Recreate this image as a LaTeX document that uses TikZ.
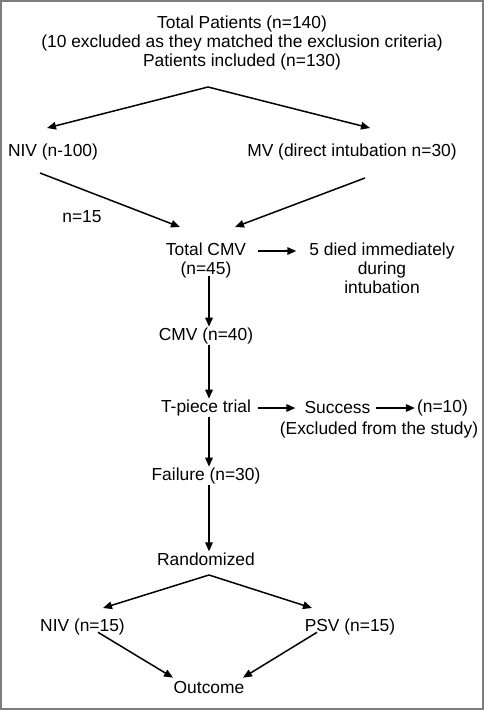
\documentclass[tikz,border=0pt]{standalone}
\usepackage{fontspec}
\setmainfont{Liberation Sans}
\usetikzlibrary{arrows.meta,positioning}
\definecolor{framegray}{RGB}{125,125,125}

\begin{document}
\begin{tikzpicture}[x=1pt,y=-1pt,
  lbl/.style={inner sep=1pt,font=\fontsize{17.4}{19}\selectfont,align=center},
  arr/.style={line width=1.5pt,-{Triangle[length=9pt,width=7.5pt]}}]
\useasboundingbox (0,0) rectangle (484,710);
\draw[framegray,line width=2pt] (1,1) rectangle (483,709);
% Enrolment
\node[lbl] (total) at (242,43) {Total Patients (n=140)\\(10 excluded as they matched the exclusion criteria)\\Patients included (n=130)};
\coordinate (split) at (208,87);
\node[lbl] (niv) at (53,152) {NIV (n-100)};
\node[lbl] (mv) at (352,152) {MV (direct intubation n=30)};
\coordinate (nivin) at (47,128);
\coordinate (mvin) at (370,128);
\draw[arr] (split) -- (nivin);
\draw[arr] (split) -- (mvin);
% Ventilation
\node[lbl] (n15) at (82,217) {n=15};
\node[lbl] (cmv45) at (206,260) {Total CMV\\(n=45)};
\coordinate (nivout) at (40,173);
\coordinate (mvout) at (365,178);
\coordinate (cmvin1) at (180,227);
\coordinate (cmvin2) at (235,227);
\draw[arr] (nivout) -- (cmvin1);
\draw[arr] (mvout) -- (cmvin2);
\node[lbl] (died) at (382,268) {5 died immediately\\during\\intubation};
\draw[arr] ([xshift=11pt,yshift=9pt]cmv45.east) -- ([xshift=-12pt,yshift=17pt]died.west);
\node[lbl] (cmv40) at (206,336) {CMV (n=40)};
\draw[arr] ([xshift=3pt,yshift=3pt]cmv45.south) -- ([xshift=3pt]cmv40.north);
% Weaning
\node[lbl] (tpiece) at (206,408) {T-piece trial};
\draw[arr] ([xshift=3pt]cmv40.south) -- ([xshift=3pt]tpiece.north);
\node[lbl] (success) at (337.5,408) {Success};
\node[lbl] (n10) at (442.5,408) {(n=10)};
\node[lbl] (excl) at (379,430) {(Excluded from the study)};
\draw[arr] ([xshift=6pt]tpiece.east) -- ([xshift=-8pt]success.west);
\draw[arr] ([xshift=4pt]success.east) -- ([xshift=-1pt]n10.west);
\node[lbl] (fail) at (206,476) {Failure (n=30)};
\draw[arr] ([xshift=3pt]tpiece.south) -- ([xshift=3pt]fail.north);
\node[lbl] (rand) at (206,559) {Randomized};
\draw[arr] ([xshift=3pt]fail.south) -- ([xshift=3pt]rand.north);
% Groups
\coordinate (split2) at (209,575);
\coordinate (nivin2) at (103,608);
\coordinate (psvin) at (312,608);
\node[lbl] (niv2) at (82.5,627) {NIV (n=15)};
\node[lbl] (psv) at (350,627) {PSV (n=15)};
\draw[arr] (split2) -- (nivin2);
\draw[arr] (split2) -- (psvin);
\node[lbl] (outc) at (209,688) {Outcome};
\draw[arr] ([xshift=15.5pt,yshift=4pt]niv2.south) -- ([xshift=-36pt,yshift=3pt]outc.north);
\draw[arr] ([xshift=-33pt,yshift=4pt]psv.south) -- ([xshift=34pt,yshift=3pt]outc.north);
\end{tikzpicture}
\end{document}
